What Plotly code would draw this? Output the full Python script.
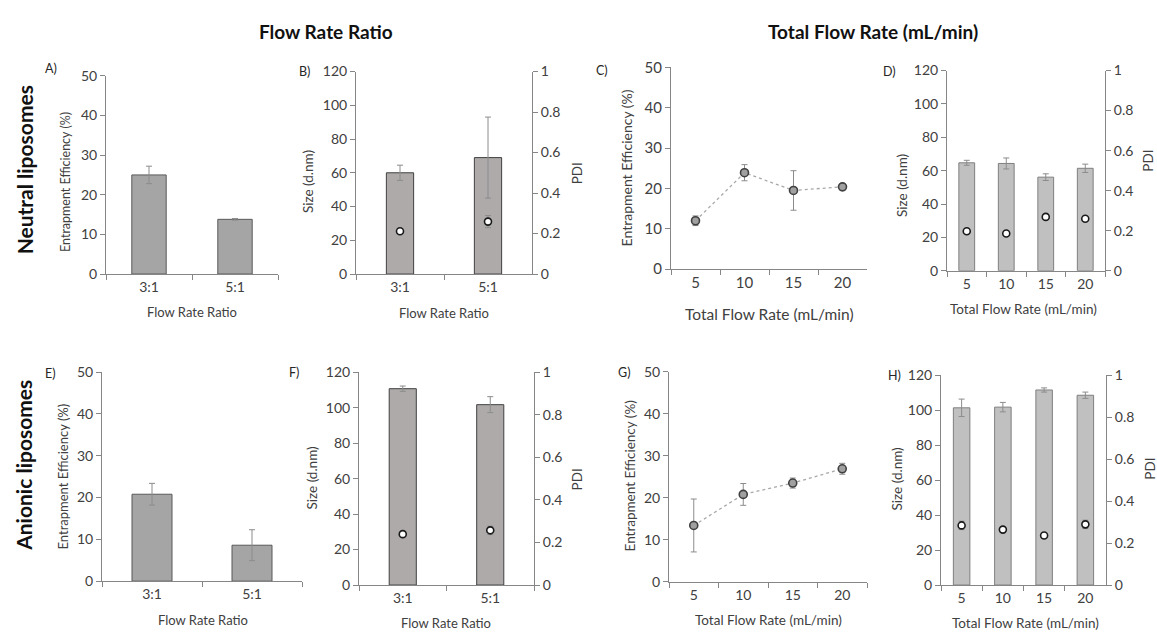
import plotly.graph_objects as go

W, H = 1157, 639
FONT = "Lato"

# ---------------- data ----------------
ratio_cats = ["3:1", "5:1"]
tfr_cats = ["5", "10", "15", "20"]

# A) Neutral EE vs FRR
A_ee = [25.0, 13.8]
A_err = [2.2, 0.2]
# B) Neutral size / PDI vs FRR
B_size = [60.0, 69.0]
B_size_err = [4.5, 24.0]
B_pdi = [0.211, 0.259]
B_pdi_err = [0.01, 0.03]
# C) Neutral EE vs TFR
C_ee = [12.0, 23.9, 19.5, 20.4]
C_err = [1.2, 2.0, 4.9, 0.7]
# D) Neutral size / PDI vs TFR
D_size = [64.7, 64.3, 56.1, 61.4]
D_size_err = [1.5, 3.3, 2.0, 2.5]
D_pdi = [0.197, 0.186, 0.269, 0.260]
D_pdi_err = [0.008, 0.008, 0.008, 0.008]
# E) Anionic EE vs FRR
E_ee = [20.8, 8.6]
E_err = [2.6, 3.7]
# F) Anionic size / PDI vs FRR
F_size = [110.7, 101.7]
F_size_err = [1.5, 4.5]
F_pdi = [0.239, 0.257]
F_pdi_err = [0.008, 0.02]
# G) Anionic EE vs TFR
G_ee = [13.4, 20.8, 23.5, 26.9]
G_err = [6.3, 2.6, 1.2, 1.3]
# H) Anionic size / PDI vs TFR
H_size = [101.3, 101.7, 111.5, 108.5]
H_size_err = [5.0, 2.7, 1.2, 1.8]
H_pdi = [0.284, 0.264, 0.236, 0.289]
H_pdi_err = [0.02, 0.008, 0.008, 0.02]

# ---------------- helpers ----------------
def px(x):
    return x / W

def py(y):
    return 1 - y / H

AX_COL = "#868686"
TICK_COL = "#404040"
ERR_COL = "#8c8c8c"

fig = go.Figure()
layout = {}
annotations = []


def ann(text, x, y, size, bold=False, angle=0, color="#404040"):
    annotations.append(dict(
        text=f"<b>{text}</b>" if bold else text,
        x=px(x), y=py(y), xref="paper", yref="paper",
        showarrow=False, textangle=angle,
        font=dict(family=FONT, size=size, color=color),
        xanchor="center", yanchor="middle"))


def xaxis_cfg(dom, cats, anchor, fs):
    return dict(domain=[px(dom[0]), px(dom[1])], anchor=anchor,
                type="category", categoryorder="array", categoryarray=cats,
                range=[-0.5, len(cats) - 0.5], tickson="boundaries",
                showline=True, linecolor=AX_COL, linewidth=1,
                ticks="outside", ticklen=5, tickcolor=AX_COL,
                showgrid=False, zeroline=False, fixedrange=True,
                tickfont=dict(family=FONT, size=fs, color=TICK_COL))


def yaxis_cfg(dom, rng, dtick, anchor, fs, side="left", overlay=None):
    d = dict(domain=[py(dom[1]), py(dom[0])], anchor=anchor, side=side,
             range=rng, dtick=dtick, tick0=0,
             showline=True, linecolor=AX_COL, linewidth=1,
             ticks="outside", ticklen=5, tickcolor=AX_COL,
             showgrid=False, zeroline=False, fixedrange=True,
             tickfont=dict(family=FONT, size=fs, color=TICK_COL))
    if overlay:
        d["overlaying"] = overlay
    return d


def bar_trace(cats, vals, errs, xa, ya, width, fill, line):
    return go.Bar(x=cats, y=vals, xaxis=xa, yaxis=ya, width=width,
                  marker=dict(color=fill, line=dict(color=line, width=1)),
                  error_y=dict(type="data", array=errs, color=ERR_COL,
                               thickness=1, width=3),
                  showlegend=False, hoverinfo="skip")


def pdi_trace(cats, vals, errs, xa, ya):
    return go.Scatter(x=cats, y=vals, xaxis=xa, yaxis=ya, mode="markers",
                      marker=dict(symbol="circle", size=7, color="white",
                                  line=dict(color="#1a1a1a", width=1.6)),
                      error_y=dict(type="data", array=errs, color=ERR_COL,
                                   thickness=1, width=3),
                      showlegend=False, hoverinfo="skip")


def ee_line(cats, vals, errs, xa, ya):
    return go.Scatter(x=cats, y=vals, xaxis=xa, yaxis=ya, mode="lines+markers",
                      line=dict(color="#a8a8a8", width=1.3, dash="dot"),
                      marker=dict(symbol="circle", size=8, color="#a0a0a0",
                                  line=dict(color="#404040", width=1.6)),
                      error_y=dict(type="data", array=errs, color=ERR_COL,
                                   thickness=1, width=3),
                      showlegend=False, hoverinfo="skip")


TF = 14      # standard tick font
TFC = 15     # panel C tick font

# ---------------- panel A ----------------
fig.add_trace(bar_trace(ratio_cats, A_ee, A_err, "x", "y", 0.4, "#a5a5a5", "#595959"))
layout["xaxis"] = xaxis_cfg((106, 278), ratio_cats, "y", TF)
layout["yaxis"] = yaxis_cfg((67.7, 271.7), [0, 50], 10, "x", TF)

# ---------------- panel B ----------------
fig.add_trace(bar_trace(ratio_cats, B_size, B_size_err, "x2", "y2", 0.31, "#aeaaaa", "#404040"))
fig.add_trace(pdi_trace(ratio_cats, B_pdi, B_pdi_err, "x2", "y3"))
layout["xaxis2"] = xaxis_cfg((356, 532), ratio_cats, "y2", TF)
layout["yaxis2"] = yaxis_cfg((63.3, 271.7), [0, 120], 20, "x2", TF)
layout["yaxis3"] = yaxis_cfg((63.3, 271.7), [0, 1], 0.2, "x2", TF, side="right", overlay="y2")

# ---------------- panel C ----------------
fig.add_trace(ee_line(tfr_cats, C_ee, C_err, "x3", "y4"))
layout["xaxis3"] = xaxis_cfg((671, 867), tfr_cats, "y4", TFC)
layout["yaxis4"] = yaxis_cfg((59, 266.7), [0, 50], 10, "x3", TFC)

# ---------------- panel D ----------------
fig.add_trace(bar_trace(tfr_cats, D_size, D_size_err, "x4", "y5", 0.4, "#c0c0c0", "#7f7f7f"))
fig.add_trace(pdi_trace(tfr_cats, D_pdi, D_pdi_err, "x4", "y6"))
layout["xaxis4"] = xaxis_cfg((947, 1105), tfr_cats, "y5", TF)
layout["yaxis5"] = yaxis_cfg((62.3, 268.3), [0, 120], 20, "x4", TF)
layout["yaxis6"] = yaxis_cfg((62.3, 268.3), [0, 1], 0.2, "x4", TF, side="right", overlay="y5")

# ---------------- panel E ----------------
fig.add_trace(bar_trace(ratio_cats, E_ee, E_err, "x5", "y7", 0.4, "#a5a5a5", "#595959"))
layout["xaxis5"] = xaxis_cfg((102, 302), ratio_cats, "y7", TF)
layout["yaxis7"] = yaxis_cfg((372.7, 587.7), [0, 50], 10, "x5", TF)

# ---------------- panel F ----------------
fig.add_trace(bar_trace(ratio_cats, F_size, F_size_err, "x6", "y8", 0.31, "#aeaaaa", "#404040"))
fig.add_trace(pdi_trace(ratio_cats, F_pdi, F_pdi_err, "x6", "y9"))
layout["xaxis6"] = xaxis_cfg((359, 534), ratio_cats, "y8", TF)
layout["yaxis8"] = yaxis_cfg((372.7, 591.7), [0, 120], 20, "x6", TF)
layout["yaxis9"] = yaxis_cfg((372.7, 591.7), [0, 1], 0.2, "x6", TF, side="right", overlay="y8")

# ---------------- panel G ----------------
fig.add_trace(ee_line(tfr_cats, G_ee, G_err, "x7", "y10"))
layout["xaxis7"] = xaxis_cfg((669, 867), tfr_cats, "y10", TF)
layout["yaxis10"] = yaxis_cfg((372.3, 588.3), [0, 50], 10, "x7", TF)

# ---------------- panel H ----------------
fig.add_trace(bar_trace(tfr_cats, H_size, H_size_err, "x8", "y11", 0.4, "#c0c0c0", "#7f7f7f"))
fig.add_trace(pdi_trace(tfr_cats, H_pdi, H_pdi_err, "x8", "y12"))
layout["xaxis8"] = xaxis_cfg((941, 1106), tfr_cats, "y11", TF)
layout["yaxis11"] = yaxis_cfg((375.7, 591.7), [0, 120], 20, "x8", TF)
layout["yaxis12"] = yaxis_cfg((375.7, 591.7), [0, 1], 0.2, "x8", TF, side="right", overlay="y11")

# ---------------- texts ----------------
ann("Flow Rate Ratio", 326, 22, 19, bold=True, color="#111111")
ann("Total Flow Rate (mL/min)", 873, 22, 19, bold=True, color="#111111")
ann("Neutral liposomes", 24, 165, 21, bold=True, angle=-90, color="#111111")
ann("Anionic liposomes", 24, 469, 21, bold=True, angle=-90, color="#111111")

for lab, x, y in [("A)", 51, 60), ("B)", 305, 63), ("C)", 602, 62), ("D)", 889, 63),
                  ("E)", 50, 374), ("F)", 294, 373), ("G)", 624, 373), ("H)", 894, 376)]:
    ann(lab, x, y, 12.5, color="#262626")

# axis titles
ann("Entrapment Efficiency (%)", 65, 177, 12.5, angle=-90)
ann("Flow Rate Ratio", 192, 311, 13)
ann("Size (d.nm)", 308, 177, 13.5, angle=-90)
ann("PDI", 577, 168, 13.5, angle=-90)
ann("Flow Rate Ratio", 444, 312, 13)
ann("Entrapment Efficiency (%)", 626, 163, 14, angle=-90)
ann("Total Flow Rate (mL/min)", 769, 313, 15.5)
ann("Size (d.nm)", 902, 180, 13.5, angle=-90)
ann("PDI", 1148, 155, 13.5, angle=-90)
ann("Total Flow Rate (mL/min)", 1023, 308, 13.5)
ann("Entrapment Efficiency (%)", 63, 480, 13, angle=-90)
ann("Flow Rate Ratio", 203, 628, 13)
ann("Size (d.nm)", 312, 482, 13.5, angle=-90)
ann("PDI", 577, 483, 13.5, angle=-90)
ann("Flow Rate Ratio", 446, 631, 13)
ann("Entrapment Efficiency (%)", 630, 480, 13.5, angle=-90)
ann("Total Flow Rate (mL/min)", 768, 628, 13.5)
ann("Size (d.nm)", 897, 483, 13.5, angle=-90)
ann("PDI", 1150, 472, 13.5, angle=-90)
ann("Total Flow Rate (mL/min)", 1025, 631, 13.5)

fig.update_layout(
    width=W, height=H, margin=dict(l=0, r=0, t=0, b=0),
    paper_bgcolor="white", plot_bgcolor="white",
    showlegend=False, barmode="overlay", annotations=annotations,
    font=dict(family=FONT, color=TICK_COL),
    **layout)

fig.write_html("out.html", config={"displayModeBar": False})
